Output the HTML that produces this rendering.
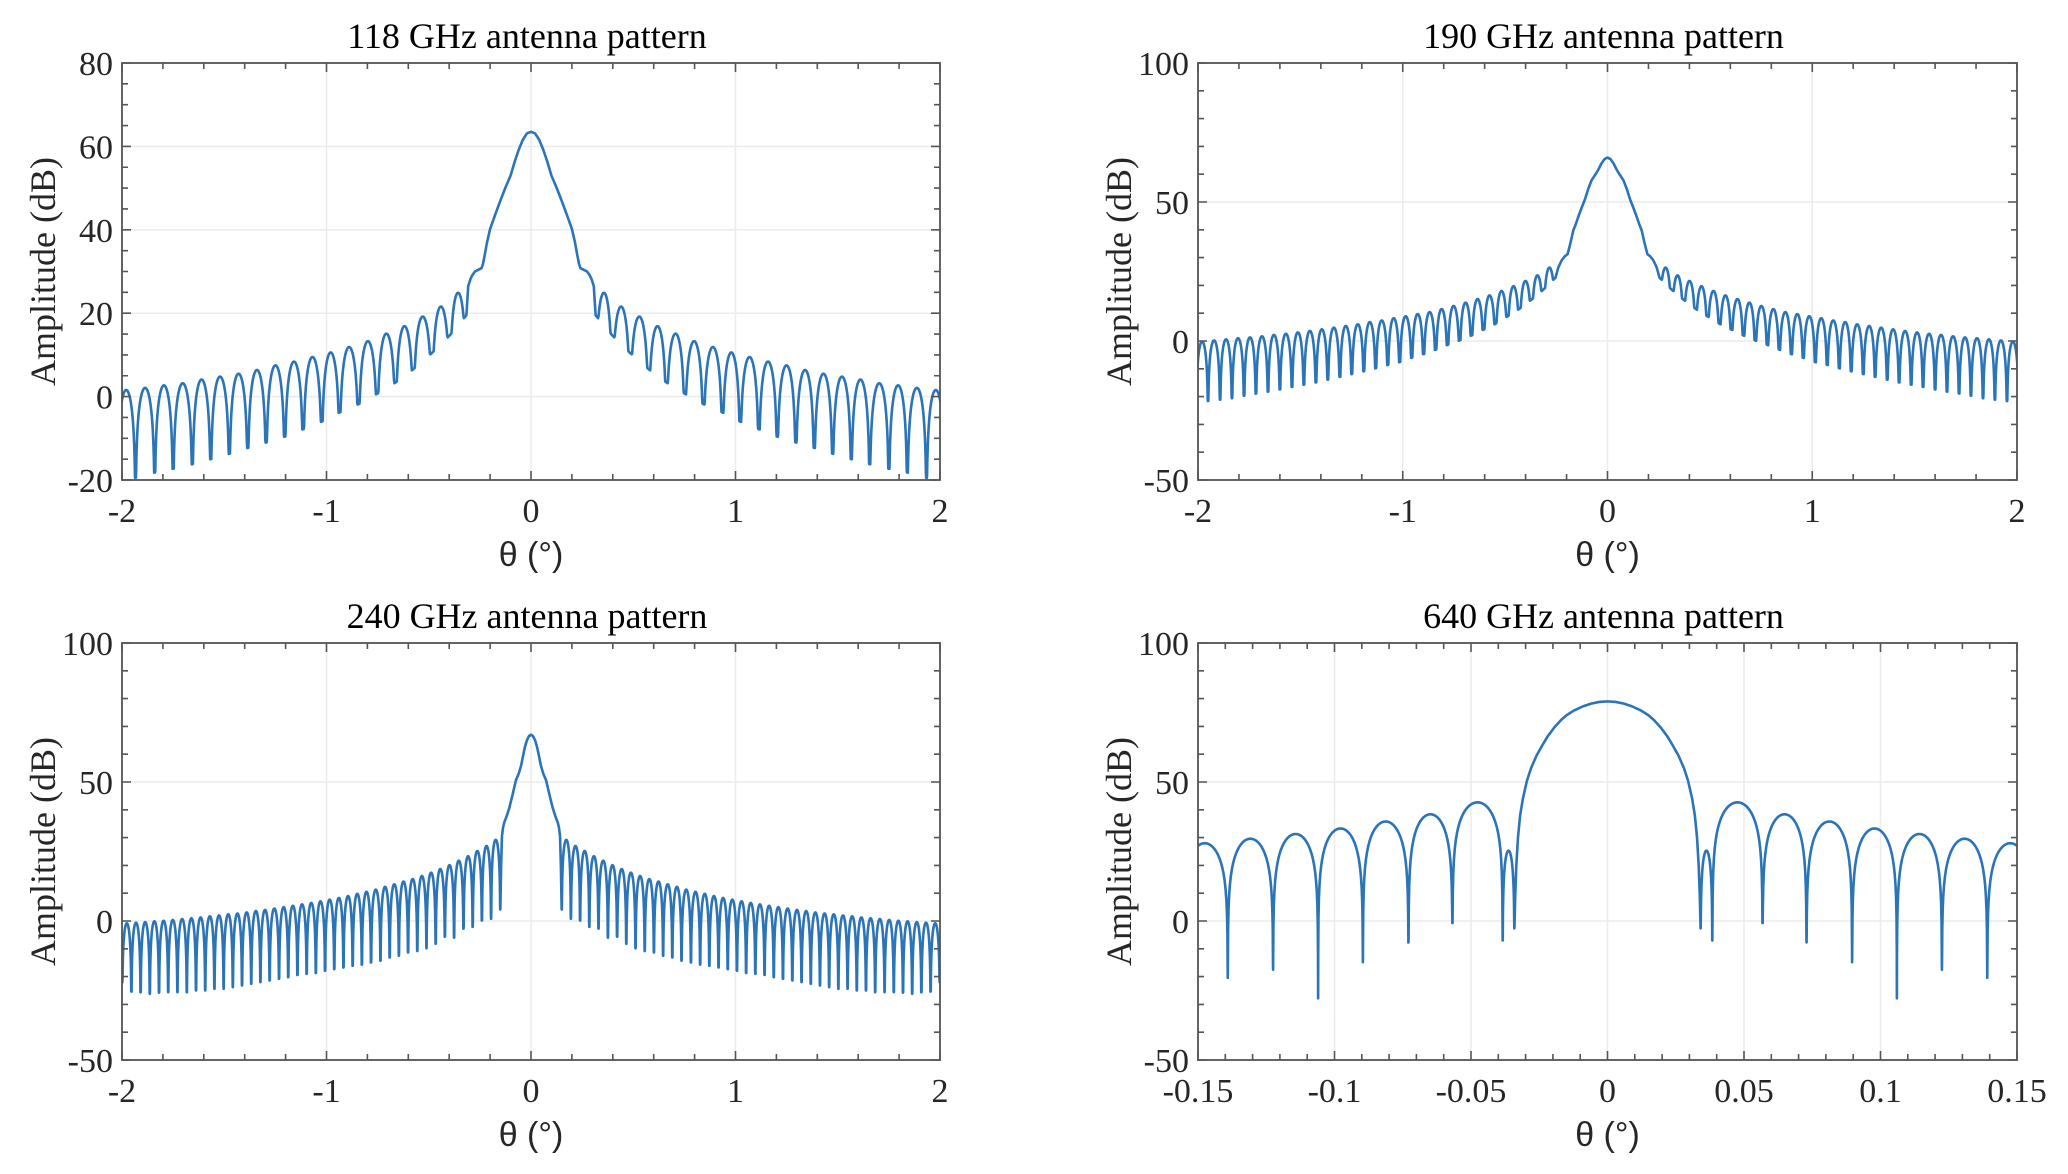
<!DOCTYPE html>
<html><head><meta charset="utf-8"><style>
html,body{margin:0;padding:0;background:#fff;}
svg{display:block;}
.tk{font-family:"Liberation Serif",serif;font-size:34px;fill:#262626;}
.ttl{font-family:"Liberation Serif",serif;font-size:36px;fill:#000;}
.yl{font-family:"Liberation Serif",serif;font-size:36px;fill:#262626;}
.xl{font-family:"Liberation Sans","DejaVu Sans",sans-serif;font-size:34px;fill:#262626;}
</style></head><body>
<svg id="fig" width="2068" height="1174" viewBox="0 0 2068 1174" xmlns="http://www.w3.org/2000/svg"></svg>
<script>
// ---- 118 GHz (right half, mirrored) ----
const main118X = [0, 0.02, 0.04, 0.06, 0.08, 0.1, 0.126, 0.152, 0.176, 0.2, 0.215, 0.226, 0.235, 0.242, 0.258, 0.274, 0.286, 0.296, 0.307, 0.316];
const main118Y = [63.5, 63.1, 61.6, 59.2, 56.3, 53, 50, 46.7, 43.5, 40.2, 37, 34, 31.8, 30.8, 30.4, 30, 29.2, 28.2, 26.5, 19.5];
const null118X = [0.316,0.397,0.484,0.575,0.662,0.752,0.843,0.936,1.023,1.114,1.204,1.295,1.385,1.475,1.566,1.656,1.75,1.84,1.934,2.025];
const null118Y = [19.5,14.7,10.5,6.6,3.4,0.7,-1.8,-3.8,-6,-7.8,-9.6,-11,-12.3,-13.7,-15,-16.2,-17.3,-18.2,-19.5,-20];
const peak118Y = [24.9,21.6,19.2,16.9,15.1,13.3,11.9,10.6,9.5,8.4,7.5,6.4,5.5,4.8,4.1,3.2,2.7,2.1,1.6];
// ---- 190 GHz ----
const main190X = [0, 0.015, 0.03, 0.045, 0.06, 0.078, 0.095, 0.11, 0.127, 0.143, 0.155, 0.167, 0.18, 0.195, 0.208, 0.224, 0.24, 0.254];
const main190Y = [66, 65.4, 63.8, 61.6, 59.8, 57.8, 54.5, 51, 47.8, 44.6, 42, 39.8, 35.5, 31.2, 30.5, 29, 26.5, 22.8];
const null190X = [0.254,0.313,0.371,0.430,0.488,0.547,0.605,0.664,0.722,0.781,0.839,0.898,0.956,1.015,1.073,1.132,1.190,1.249,1.307,1.366,1.424,1.483,1.541,1.600,1.658,1.717,1.775,1.834,1.892,1.951,2.009];
const null190Y = [22.8,18.5,14.9,11.6,8.9,6.2,4.1,2,0.2,-1.4,-3.1,-4.7,-6,-7.6,-8.6,-9.8,-10.9,-11.9,-12.9,-13.9,-14.9,-15.7,-16.5,-17.4,-18.2,-18.9,-19.7,-20.6,-21.1,-21.6,-22];
const peak190Y = [26.4,23.6,21.6,19.7,18,16.4,15.1,13.8,12.6,11.5,10.4,9.7,8.9,8.2,7.4,6.8,6,5.4,4.8,4.2,3.6,3.1,2.6,2.2,1.7,1.3,1,0.6,0.2,-0.2];
// ---- 240 GHz ----
const main240X = [0, 0.01, 0.02, 0.03, 0.04, 0.048, 0.06, 0.0735, 0.09, 0.106, 0.12, 0.131, 0.137, 0.142, 0.146, 0.150];
const main240Y = [67, 66.5, 65, 62.5, 59, 56, 53, 50.7, 45.5, 40.7, 37.5, 35.4, 33.5, 30.5, 20, 4.2];
const null240X = [0.150,0.195,0.240,0.285,0.330,0.376,0.421,0.466,0.511,0.556,0.601,0.646,0.691,0.736,0.782,0.827,0.872,0.917,0.962,1.007,1.052,1.097,1.142,1.187,1.232,1.278,1.323,1.368,1.413,1.458,1.503,1.548,1.593,1.638,1.683,1.729,1.774,1.819,1.864,1.909,1.954,1.999];
const null240Y = [4.2,0.8,0.2,-2.1,-2.7,-6,-5.6,-8.2,-9.8,-10.8,-11.3,-12.5,-13.1,-14.3,-14.9,-15.7,-16.1,-16.7,-17.3,-17.9,-18.7,-19,-19.4,-20.2,-20.8,-21.4,-22,-22.6,-23.2,-23.8,-24.4,-24.4,-25,-25,-25.6,-25.6,-25.6,-25.8,-26.2,-25.6,-25.4,-22];
const peak240Y = [29.2,27,25.2,23.3,21.7,20.1,18.7,17.4,16.2,15.1,14.2,13.2,12.3,11.3,10.5,9.8,9,8.3,7.7,7.1,6.5,6,5.5,5,4.5,4,3.6,3.1,2.7,2.4,2,1.7,1.3,1,0.7,0.4,0.1,-0.1,-0.4,-0.6,-0.8];
// ---- 640 GHz ----
const main640X = [0, 0.003, 0.006, 0.009, 0.0123, 0.015, 0.017, 0.0195, 0.022, 0.024, 0.026, 0.028, 0.0295, 0.031, 0.032, 0.0328, 0.0334, 0.0338, 0.0341];
const main640Y = [79, 78.8, 78.2, 77.2, 75.7, 74, 72.3, 69.6, 66.3, 63, 59.5, 55, 50.5, 44, 38, 30, 20, 9, -2.6];
const null640X = [0.0341,0.0384,0.0568,0.0729,0.0896,0.1060,0.1225,0.1391,0.156];
const null640Y = [-2.6,-7,-0.7,-7.7,-14.8,-27.8,-17.5,-20.4,-20];
const peak640Y = [25.3,42.7,38.4,35.8,33.3,31.3,29.6,28];
// ---- axes ticks ----
const xTicksWide = [-2,-1,0,1,2];
const xLabelsWide = ["-2","-1","0","1","2"];
const xTicks640 = [-0.15,-0.1,-0.05,0,0.05,0.1,0.15];
const xLabels640 = ["-0.15","-0.1","-0.05","0","0.05","0.1","0.15"];
const yTicks118 = [-20,0,20,40,60,80];
const yLabels118 = ["-20","0","20","40","60","80"];
const yTicksStd = [-50,0,50,100];
const yLabelsStd = ["-50","0","50","100"];

const NS = "http://www.w3.org/2000/svg";
const fig = document.getElementById('fig');
function mk(tag, attrs, parent) {
  const e = document.createElementNS(NS, tag);
  for (const k in attrs) e.setAttribute(k, attrs[k]);
  (parent || fig).appendChild(e);
  return e;
}
function sidePoints(mx, my, nx, ny, py) {
  const pts = [];
  for (let i = 0; i < mx.length; i++) pts.push([mx[i], my[i]]);
  const M = 36;
  for (let i = 0; i < py.length; i++) {
    const a = nx[i], b = nx[i+1];
    for (let s = 1; s <= M; s++) {
      const t = (1 - Math.cos(Math.PI * s / M)) / 2;
      const lin = ny[i] + t * (ny[i+1] - ny[i]);
      const lobe = py[i] + 20 * Math.log10(Math.max(Math.sin(Math.PI * t), 1e-9));
      pts.push([a + t * (b - a), Math.max(lin, lobe)]);
    }
  }
  const full = [];
  for (let i = pts.length - 1; i >= 1; i--) full.push([-pts[i][0], pts[i][1]]);
  for (const p of pts) full.push(p);
  return full;
}
const panels = [
  {id:'118', L:122, R:940, T:63, B:480, x0:-2, x1:2, y0:-20, y1:80, xt:xTicksWide, xl:xLabelsWide, xm:0.2, yt:yTicks118, yl:yLabels118, ym:5, title:'118 GHz antenna pattern', d:[main118X,main118Y,null118X,null118Y,peak118Y]},
  {id:'190', L:1198, R:2017, T:63, B:480, x0:-2, x1:2, y0:-50, y1:100, xt:xTicksWide, xl:xLabelsWide, xm:0.2, yt:yTicksStd, yl:yLabelsStd, ym:10, title:'190 GHz antenna pattern', d:[main190X,main190Y,null190X,null190Y,peak190Y]},
  {id:'240', L:122, R:940, T:643, B:1060, x0:-2, x1:2, y0:-50, y1:100, xt:xTicksWide, xl:xLabelsWide, xm:0.2, yt:yTicksStd, yl:yLabelsStd, ym:10, title:'240 GHz antenna pattern', d:[main240X,main240Y,null240X,null240Y,peak240Y]},
  {id:'640', L:1198, R:2017, T:643, B:1060, x0:-0.15, x1:0.15, y0:-50, y1:100, xt:xTicks640, xl:xLabels640, xm:0.01, yt:yTicksStd, yl:yLabelsStd, ym:10, title:'640 GHz antenna pattern', d:[main640X,main640Y,null640X,null640Y,peak640Y]}
];
panels.forEach(p => {
  const sx = v => p.L + (v - p.x0) / (p.x1 - p.x0) * (p.R - p.L);
  const sy = v => p.B - (v - p.y0) / (p.y1 - p.y0) * (p.B - p.T);
  const g = mk('g', {});
  
  
  p.xt.forEach(v => {
    const l = mk('line', {x1:sx(v), x2:sx(v), y1:p.T, y2:p.B, stroke:'#ebebeb', 'stroke-width':1.5}, g);
    
    
  });
  p.yt.forEach(v => {
    const l = mk('line', {x1:p.L, x2:p.R, y1:sy(v), y2:sy(v), stroke:'#ebebeb', 'stroke-width':1.5}, g);
    
    
  });
  const cp = mk('clipPath', {id:'clip' + p.id}, g);
  mk('rect', {x:p.L, y:p.T, width:p.R - p.L, height:p.B - p.T}, cp);
  const pts = sidePoints(...p.d);
  let dstr = '';
  pts.forEach((q, i) => { dstr += (i ? 'L' : 'M') + sx(q[0]).toFixed(2) + ' ' + sy(q[1]).toFixed(2); });
  const path = mk('path', {d:dstr, fill:'none', stroke:'#2b74b7', 'stroke-width':2.6, 'stroke-linejoin':'round', 'clip-path':'url(#clip' + p.id + ')'}, g);
  
  
  let tk = '';
  const nx = Math.round((p.x1 - p.x0) / p.xm);
  for (let i = 0; i <= nx; i++) {
    const v = p.x0 + i * p.xm;
    const major = p.xt.some(t => Math.abs(t - v) < 1e-6);
    const len = major ? 9 : 6;
    const X = sx(v);
    tk += `M${X} ${p.B}V${p.B - len}M${X} ${p.T}V${p.T + len}`;
  }
  const ny = Math.round((p.y1 - p.y0) / p.ym);
  for (let i = 0; i <= ny; i++) {
    const v = p.y0 + i * p.ym;
    const major = p.yt.some(t => Math.abs(t - v) < 1e-6);
    const len = major ? 9 : 6;
    const Y = sy(v);
    tk += `M${p.L} ${Y}H${p.L + len}M${p.R} ${Y}H${p.R - len}`;
  }
  const tp = mk('path', {d:tk, stroke:'#555', 'stroke-width':1.6, fill:'none'}, g);
  
  
  const box = mk('rect', {x:p.L, y:p.T, width:p.R - p.L, height:p.B - p.T, fill:'none', stroke:'#555', 'stroke-width':1.8}, g);
  
  
  p.xt.forEach((v, i) => {
    const t = mk('text', {x:sx(v), y:p.B + 42, 'text-anchor':'middle', class:'tk'}, g);
    t.textContent = p.xl[i];
    
    
  });
  p.yt.forEach((v, i) => {
    const t = mk('text', {x:p.L - 9, y:sy(v) + 12, 'text-anchor':'end', class:'tk'}, g);
    t.textContent = p.yl[i];
    
    
  });
  const ttl = mk('text', {x:(p.L + p.R) / 2 - 4, y:p.T - 15, 'text-anchor':'middle', class:'ttl'}, g);
  ttl.textContent = p.title;
  
  
  const cy = (p.T + p.B) / 2;
  const yl = mk('text', {x:p.L - 67, y:cy, 'text-anchor':'middle', class:'yl', transform:`rotate(-90 ${p.L - 67} ${cy})`}, g);
  yl.textContent = 'Amplitude (dB)';
  
  
  const xl = mk('text', {x:(p.L + p.R) / 2, y:p.B + 86, 'text-anchor':'middle', class:'xl'}, g);
  xl.textContent = 'θ (°)';
  
  
});
</script>
</body></html>
